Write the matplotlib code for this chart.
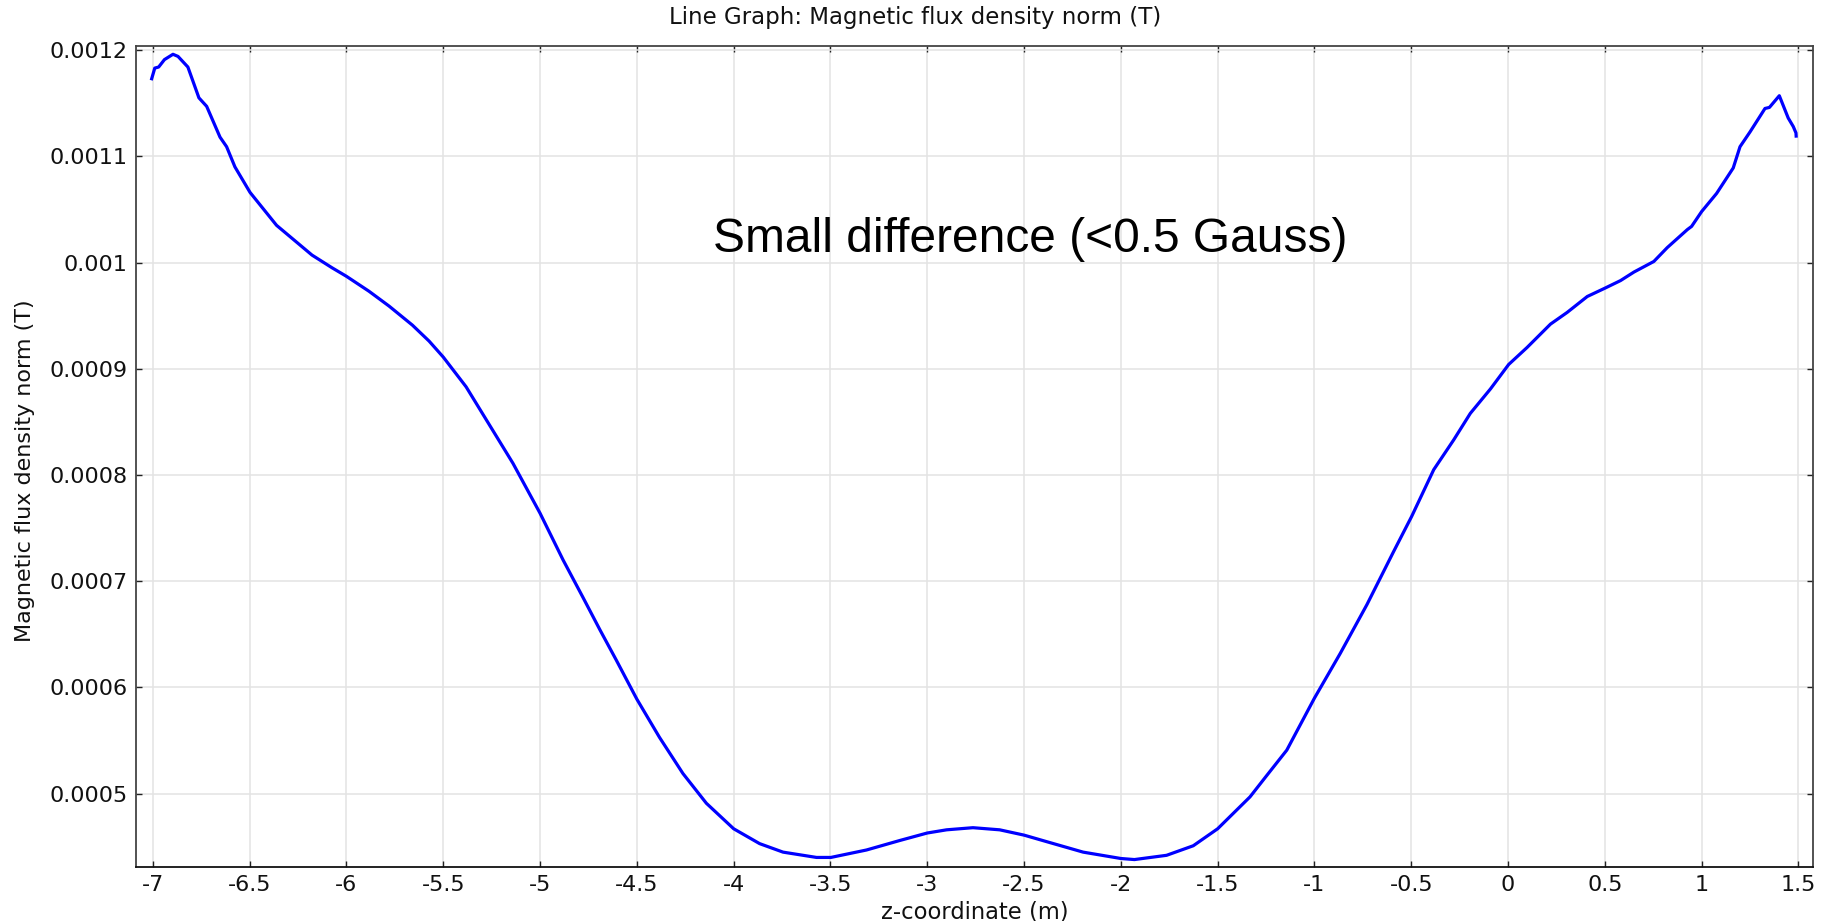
import matplotlib
matplotlib.use("Agg")
import matplotlib.pyplot as plt
from matplotlib.ticker import MultipleLocator, FuncFormatter

# ---- data ----
z_m = [-7.006, -6.99, -6.97, -6.94, -6.896, -6.87, -6.819, -6.762, -6.722, -6.653,
       -6.619, -6.576, -6.498, -6.361, -6.178, -6.074, -6.0, -5.884, -5.78, -5.659,
       -5.573, -5.5, -5.382, -5.261, -5.14, -5.0, -4.881, -4.779, -4.69, -4.607,
       -4.5, -4.383, -4.262, -4.141, -4.0, -3.866, -3.745, -3.572, -3.498, -3.314,
       -3.141, -3.0, -2.90, -2.764, -2.626, -2.5, -2.367, -2.195, -2.0, -1.93,
       -1.764, -1.626, -1.5, -1.333, -1.247, -1.143, -1.0, -0.867, -0.729, -0.591,
       -0.498, -0.384, -0.281, -0.195, -0.091, 0.003, 0.098, 0.219, 0.305, 0.409,
       0.502, 0.581, 0.65, 0.753, 0.822, 0.926, 0.948, 1.0, 1.077, 1.163,
       1.198, 1.25, 1.327, 1.35, 1.401, 1.447, 1.473, 1.487, 1.488]
B_T = [0.001173, 0.001183, 0.001184, 0.001191, 0.001196, 0.001194, 0.001184, 0.001155, 0.001147, 0.001118,
       0.001109, 0.001090, 0.001066, 0.001035, 0.001007, 0.000995, 0.000987, 0.000973, 0.000959, 0.000941,
       0.000926, 0.000911, 0.000883, 0.000847, 0.000811, 0.000764, 0.000720, 0.000685, 0.000654, 0.000626,
       0.000589, 0.000553, 0.000519, 0.000491, 0.000467, 0.000453, 0.000445, 0.000440, 0.000440, 0.000447,
       0.000456, 0.000463, 0.000466, 0.000468, 0.000466, 0.000461, 0.000454, 0.000445, 0.000439, 0.000438,
       0.000442, 0.000451, 0.000467, 0.000497, 0.000517, 0.000541, 0.000590, 0.000632, 0.000678, 0.000728,
       0.000761, 0.000805, 0.000833, 0.000858, 0.000881, 0.000904, 0.000920, 0.000942, 0.000953, 0.000968,
       0.000976, 0.000983, 0.000991, 0.001001, 0.001014, 0.001031, 0.001034, 0.001048, 0.001065, 0.001089,
       0.001109, 0.001123, 0.001145, 0.001146, 0.001157, 0.001136, 0.001128, 0.001122, 0.001119]

title = "Line Graph: Magnetic flux density norm (T)"
xlabel = "z-coordinate (m)"
ylabel = "Magnetic flux density norm (T)"
note = "Small difference (<0.5 Gauss)"

plt.rcParams['font.family'] = ['DejaVu Sans']
plt.rcParams['axes.unicode_minus'] = False

W, H = 1830, 921
fig = plt.figure(figsize=(W / 100, H / 100), dpi=100)
ax = fig.add_axes([136 / W, 1 - 867 / H, (1813 - 136) / W, (867 - 46) / H])

ax.plot(z_m, B_T, color='#0000ff', linewidth=2.3, solid_joinstyle='round', zorder=3)

ax.set_xlim(-7.087, 1.575)
ax.set_ylim(0.000431, 0.0012038)

ax.xaxis.set_major_locator(MultipleLocator(0.5))
ax.yaxis.set_major_locator(MultipleLocator(0.0001))
fmt = FuncFormatter(lambda v, p: '{:g}'.format(round(v, 10)))
ax.xaxis.set_major_formatter(fmt)
ax.yaxis.set_major_formatter(fmt)

ax.grid(True, color='#e3e3e3', linewidth=1.1, zorder=0)
ax.set_axisbelow(True)
ax.tick_params(axis='both', which='major', direction='in', length=4, width=1,
               labelsize=16, colors='#222222', top=True, right=True, pad=6)
ax.tick_params(axis='both', labelcolor='#111111')
for s in ax.spines.values():
    s.set_color('#444444')
    s.set_linewidth(1.3)
ax.spines['bottom'].set_color('#111111')

ax.text(-2.47, 0.001010, note, fontsize=34.5, family='Liberation Sans',
        ha='center', va='baseline', color='black', zorder=4)

fig.text(915 / W, 1 - 17.5 / H, title, ha='center', va='center', fontsize=16.5, color='#111111')
fig.text(974.5 / W, 1 - 912 / H, xlabel, ha='center', va='center', fontsize=16.3, color='#111111')
fig.text(25 / W, 1 - 471 / H, ylabel, ha='center', va='center', rotation=90, fontsize=16, color='#111111')

fig.savefig('out.png', dpi=100)
